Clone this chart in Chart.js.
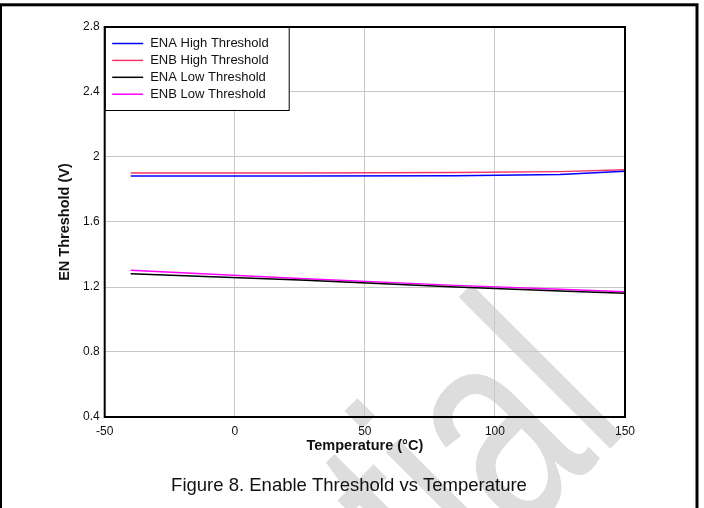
<!DOCTYPE html>
<html lang="en">
  <head>
    <meta charset="UTF-8" />
    <title>Figure 8. Enable Threshold vs Temperature</title>
    <style>
      body { margin: 0; background: #fff; }
      .chart-box { width: 704px; height: 508px; }
    </style>
  </head>
  <body>
    <div class="chart-box"><canvas id="myChart"></canvas></div>
    <script src="https://cdn.jsdelivr.net/npm/chart.js"></script>
    <script>
      const temps = [-40, 25, 85, 125, 150];
      const enaHigh = [1.883, 1.883, 1.885, 1.893, 1.913];
      const enbHigh = [1.902, 1.902, 1.904, 1.91, 1.922];
      const enaLow = [1.282, 1.243, 1.2, 1.176, 1.162];
      const enbLow = [1.303, 1.253, 1.21, 1.186, 1.171];

      const xTicks = [-50, 0, 50, 100, 150];
      const yTicks = [0.4, 0.8, 1.2, 1.6, 2, 2.4, 2.8];

      const seriesNames = [
        "ENA High Threshold",
        "ENB High Threshold",
        "ENA Low Threshold",
        "ENB Low Threshold"
      ];
      const seriesColors = ["#0000ff", "#f5336b", "#000000", "#ff00ff"];
      const seriesValues = [enaHigh, enbHigh, enaLow, enbLow];

      const FONT = "'Liberation Sans', Arial, sans-serif";
      Chart.defaults.font.family = FONT;
      Chart.defaults.color = "#111";

      function toPoints(values) {
        return temps.map((t, i) => ({ x: t, y: values[i] }));
      }

      // watermark behind everything
      const watermark = {
        id: "watermark",
        beforeDraw(chart) {
          const ctx = chart.ctx;
          ctx.save();
          ctx.translate(633, 426);
          ctx.rotate(-Math.PI / 4);
          ctx.scale(0.7, 1);
          ctx.font = "296px " + FONT;
          ctx.fillStyle = "#dddddd";
          ctx.textAlign = "right";
          ctx.textBaseline = "alphabetic";
          ctx.fillText("Confidential", 0, 0);
          ctx.restore();
        }
      };

      const legendBox = {
        id: "legendBox",
        afterDatasetsDraw(chart) {
          const { ctx, chartArea } = chart;
          const x0 = chartArea.left;
          const y0 = chartArea.top;
          ctx.save();
          ctx.fillStyle = "#fff";
          ctx.fillRect(x0, y0, 185, 83);
          ctx.strokeStyle = "#000";
          ctx.lineWidth = 1;
          ctx.strokeRect(x0 + 0.5, y0 + 0.5, 184, 83);
          ctx.font = "13px " + FONT;
          ctx.textBaseline = "middle";
          ctx.textAlign = "left";
          chart.data.datasets.forEach((ds, i) => {
            const y = y0 + 16.5 + i * 16.9;
            ctx.strokeStyle = ds.borderColor;
            ctx.lineWidth = 1.5;
            ctx.beginPath();
            ctx.moveTo(x0 + 7.5, y);
            ctx.lineTo(x0 + 38.5, y);
            ctx.stroke();
            ctx.fillStyle = "#111";
            ctx.fillText(ds.label, x0 + 45.5, y);
          });
          ctx.restore();
        }
      };

      const frame = {
        id: "frame",
        afterDraw(chart) {
          const { ctx, chartArea } = chart;
          ctx.save();
          ctx.strokeStyle = "#000";
          ctx.lineWidth = 2;
          ctx.strokeRect(
            chartArea.left,
            chartArea.top,
            chartArea.right - chartArea.left,
            chartArea.bottom - chartArea.top
          );
          // outer figure border
          ctx.lineWidth = 3;
          ctx.strokeRect(0.5, 4.8, 696.5, 540);
          // caption
          ctx.font = "18.5px " + FONT;
          ctx.fillStyle = "#111";
          ctx.textAlign = "center";
          ctx.textBaseline = "alphabetic";
          ctx.fillText("Figure 8. Enable Threshold vs Temperature", 349, 490.5);
          ctx.restore();
        }
      };

      new Chart(document.querySelector("#myChart"), {
        type: "line",
        data: {
          datasets: seriesNames.map((name, i) => ({
            label: name,
            data: toPoints(seriesValues[i]),
            borderColor: seriesColors[i],
            borderWidth: 1.5,
            pointRadius: 0,
            tension: 0
          }))
        },
        options: {
          responsive: true,
          maintainAspectRatio: false,
          animation: false,
          layout: { padding: { left: 0, top: 27, right: 79, bottom: 0 } },
          plugins: {
            legend: { display: false },
            tooltip: { enabled: false }
          },
          scales: {
            x: {
              type: "linear",
              min: -50,
              max: 150,
              afterBuildTicks: s => {
                s.ticks = xTicks.map(v => ({ value: v }));
              },
              afterFit: s => {
                s.height = 91;
              },
              grid: { color: "#c8c8c8", lineWidth: 1, drawTicks: false },
              border: { display: false },
              ticks: { font: { size: 12 }, padding: 7, maxRotation: 0 },
              title: {
                display: true,
                text: "Temperature (°C)",
                font: { size: 14.5, weight: "bold" },
                padding: { top: 0, bottom: 53.5 }
              }
            },
            y: {
              min: 0.4,
              max: 2.8,
              afterBuildTicks: s => {
                s.ticks = yTicks.map(v => ({ value: v }));
              },
              afterFit: s => {
                s.width = 104.7;
              },
              grid: { color: "#c8c8c8", lineWidth: 1, drawTicks: false },
              border: { display: false },
              ticks: {
                font: { size: 12 },
                padding: 5,
                callback: v => String(v)
              },
              title: {
                display: true,
                text: "EN Threshold (V)",
                font: { size: 14.5, weight: "bold" },
                padding: { top: 56.5, bottom: 0 }
              }
            }
          }
        },
        plugins: [watermark, legendBox, frame]
      });
    </script>
  </body>
</html>
